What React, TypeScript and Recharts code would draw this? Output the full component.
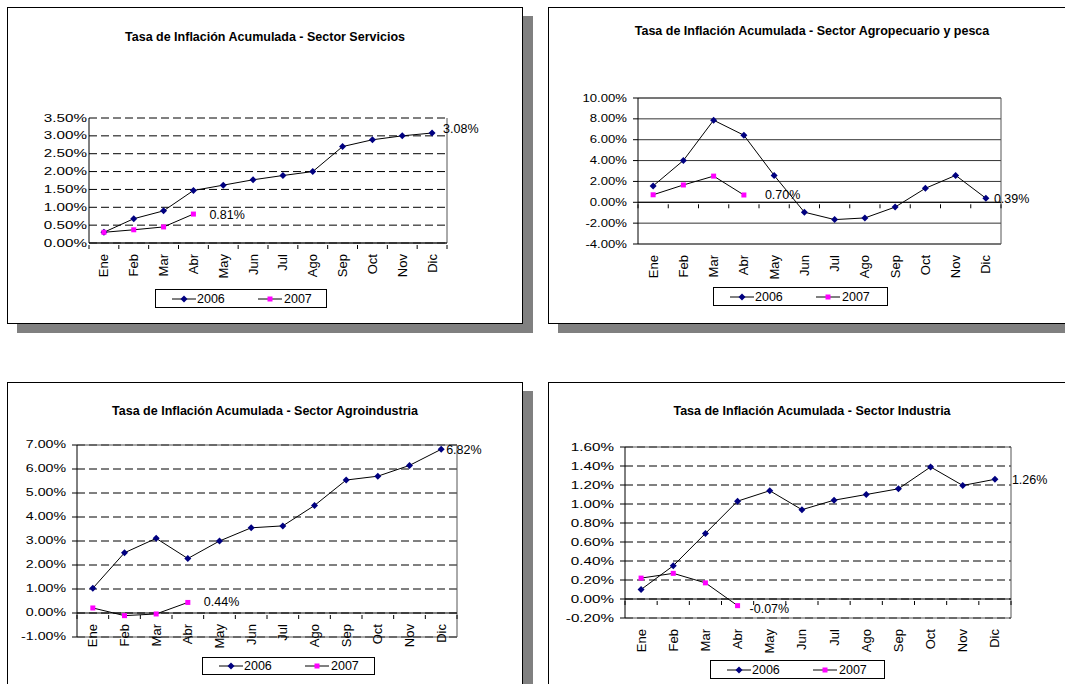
import { LineChart, Line, XAxis, YAxis, CartesianGrid, ReferenceLine } from "recharts";

const FONT = '"Liberation Sans", Arial, sans-serif';

const months = ["Ene", "Feb", "Mar", "Abr", "May", "Jun", "Jul", "Ago", "Sep", "Oct", "Nov", "Dic"];

const servicios2006 = [0.3, 0.68, 0.9, 1.47, 1.62, 1.77, 1.89, 2.0, 2.7, 2.89, 3.0, 3.08];
const servicios2007 = [0.3, 0.37, 0.45, 0.81];
const serviciosTicks = [0, 0.5, 1, 1.5, 2, 2.5, 3, 3.5];

const agro2006 = [1.57, 4.01, 7.87, 6.43, 2.58, -0.95, -1.66, -1.5, -0.46, 1.34, 2.58, 0.39];
const agro2007 = [0.72, 1.66, 2.51, 0.7];
const agroTicks = [-4, -2, 0, 2, 4, 6, 8, 10];

const agroind2006 = [1.03, 2.51, 3.11, 2.27, 3.0, 3.55, 3.63, 4.48, 5.54, 5.7, 6.15, 6.82];
const agroind2007 = [0.21, -0.11, -0.04, 0.44];
const agroindTicks = [-1, 0, 1, 2, 3, 4, 5, 6, 7];

const industria2006 = [0.1, 0.35, 0.69, 1.03, 1.14, 0.94, 1.04, 1.1, 1.16, 1.39, 1.195, 1.26];
const industria2007 = [0.22, 0.27, 0.17, -0.07];
const industriaTicks = [-0.2, 0, 0.2, 0.4, 0.6, 0.8, 1.0, 1.2, 1.4, 1.6];

const pct = (v: number) => `${v.toFixed(2)}%`;

function Diamond(p: any) {
  const { cx, cy } = p;
  if (cx == null || cy == null) return <g key={p.index} />;
  return (
    <path
      key={p.index}
      d={`M${cx},${cy - 3.5}L${cx + 3.5},${cy}L${cx},${cy + 3.5}L${cx - 3.5},${cy}Z`}
      fill="#000080"
    />
  );
}

function Square(p: any) {
  const { cx, cy } = p;
  if (cx == null || cy == null) return <g key={p.index} />;
  return <rect key={p.index} x={cx - 2.5} y={cy - 2.5} width={5} height={5} fill="#ff00ff" />;
}

function Legend({ left, top, w, h }: { left: number; top: number; w: number; h: number }) {
  const item = (marker: any, text: string, lx: number, tx: number) => (
    <>
      <svg style={{ position: "absolute", left: lx, top: h / 2 - 6 }} width={24} height={10}>
        <line x1={0} x2={24} y1={5} y2={5} stroke="#000" />
        {marker}
      </svg>
      <span style={{ position: "absolute", left: tx, top: h / 2 - 9, fontSize: 12.5, lineHeight: "16px" }}>{text}</span>
    </>
  );
  return (
    <div
      style={{
        position: "absolute",
        left,
        top,
        width: w,
        height: h,
        border: "1px solid #000",
        boxSizing: "border-box",
        fontFamily: FONT,
        background: "#fff",
      }}
    >
      {item(<path d="M12,1.5L15.5,5L12,8.5L8.5,5Z" fill="#000080" />, "2006", 16, 41)}
      {item(<rect x={9.5} y={2.5} width={5} height={5} fill="#ff00ff" />, "2007", 102, 128)}
    </div>
  );
}

type Cfg = {
  left: number;
  top: number;
  W: number;
  H: number;
  title: string;
  titleY: number;
  plot: { left: number; top: number; right: number; bottom: number };
  ticks: number[];
  s2006: number[];
  s2007: number[];
  dashed: boolean;
  topSolid: boolean;
  labelAtZero: boolean;
  sx: number;
  yTickSize: number;
  yTickMargin: number;
  lab2006: [number, number];
  lab2007: [number, number];
  legend: { left: number; top: number; w: number; h: number };
};

function Panel(c: Cfg) {
  const cw = c.W - 2;
  const ch = c.H - 2;
  const plotW = c.plot.right - c.plot.left;
  const plotH = c.plot.bottom - c.plot.top;
  const band = plotW / months.length;
  const min = c.ticks[0];
  const max = c.ticks[c.ticks.length - 1];
  const zeroShift = (plotH * (0 - min)) / (max - min);

  const data = months.map((m, i) => ({
    mes: m,
    a2006: c.s2006[i] ?? null,
    a2007: c.s2007[i] ?? null,
  }));

  const YTick = (p: any) => {
    const { x, y, payload } = p;
    return (
      <text
        transform={`translate(${x},${y}) scale(${c.sx},1)`}
        textAnchor="end"
        dominantBaseline="central"
        fontSize={10.5}
        fontFamily={FONT}
        fill="#000"
      >
        {pct(payload.value)}
      </text>
    );
  };

  const XTick = (p: any) => {
    const { x, y, payload, index } = p;
    const y0 = y - zeroShift;
    const ly = (c.labelAtZero ? y0 : y) + 9;
    return (
      <g>
        <line x1={x - band / 2} x2={x - band / 2} y1={y0} y2={y0 + 4} stroke="#000" />
        {index === months.length - 1 && (
          <line x1={x + band / 2} x2={x + band / 2} y1={y0} y2={y0 + 4} stroke="#000" />
        )}
        <text
          x={x}
          y={ly}
          transform={`rotate(-90 ${x} ${ly})`}
          textAnchor="end"
          dominantBaseline="central"
          fontSize={13}
          fontFamily={FONT}
          fill="#000"
        >
          {payload.value}
        </text>
      </g>
    );
  };

  const makeLabel = (series: number[], off: [number, number]) => (p: any) => {
    const idx = series.length - 1;
    const px = p.x ?? p.viewBox?.x;
    const py = p.y ?? p.viewBox?.y;
    if (p.index !== idx || px == null) return <g key={`l${p.index}`} />;
    return (
      <text
        key={`l${p.index}`}
        x={px + off[0]}
        y={py + off[1]}
        dominantBaseline="central"
        fontSize={12.5}
        fontFamily={FONT}
        fill="#000"
      >
        {pct(series[idx])}
      </text>
    );
  };

  return (
    <div
      style={{
        position: "absolute",
        left: c.left,
        top: c.top,
        width: c.W,
        height: c.H,
        border: "1px solid #000",
        boxSizing: "border-box",
        boxShadow: "10px 9px 0 #808080",
        background: "#fff",
      }}
    >
      <div
        style={{
          position: "absolute",
          left: 0,
          top: c.titleY - 8,
          width: cw,
          textAlign: "center",
          fontFamily: FONT,
          fontWeight: "bold",
          fontSize: 12.5,
          lineHeight: "16px",
        }}
      >
        {c.title}
      </div>
      <div style={{ position: "absolute", left: 0, top: 0 }}>
        <LineChart
          width={cw}
          height={ch}
          data={data}
          margin={{ top: c.plot.top, right: cw - c.plot.right, bottom: 0, left: 0 }}
        >
          <CartesianGrid
            vertical={false}
            stroke={c.dashed ? "#000" : "#333"}
            strokeDasharray={c.dashed ? "8 4" : undefined}
          />
          <CartesianGrid
            stroke="#555"
            verticalCoordinatesGenerator={({ offset }: any) => [offset.left + offset.width]}
            horizontalCoordinatesGenerator={({ offset }: any) =>
              c.topSolid ? [offset.top, offset.top + offset.height] : [offset.top + offset.height]
            }
          />
          <XAxis
            dataKey="mes"
            height={ch - c.plot.bottom}
            axisLine={false}
            tickLine={false}
            tickSize={0}
            interval={0}
            padding={{ left: band / 2, right: band / 2 }}
            tick={XTick}
          />
          <YAxis
            type="number"
            width={c.plot.left}
            domain={[min, max]}
            ticks={c.ticks}
            interval={0}
            allowDataOverflow
            axisLine={{ stroke: "#000" }}
            tickLine={c.yTickSize > 0 ? { stroke: "#000" } : false}
            tickSize={c.yTickSize}
            tickMargin={c.yTickMargin}
            tick={YTick}
          />
          <ReferenceLine y={0} stroke="#000" />
          <Line
            type="linear"
            dataKey="a2006"
            stroke="#000"
            strokeWidth={1}
            dot={Diamond}
            activeDot={false}
            isAnimationActive={false}
            label={makeLabel(c.s2006, c.lab2006)}
          />
          <Line
            type="linear"
            dataKey="a2007"
            stroke="#000"
            strokeWidth={1}
            dot={Square}
            activeDot={false}
            isAnimationActive={false}
            label={makeLabel(c.s2007, c.lab2007)}
          />
        </LineChart>
      </div>
      <Legend {...c.legend} />
    </div>
  );
}

export default function App() {
  return (
    <div
      style={{
        position: "absolute",
        left: 0,
        top: 0,
        width: 1065,
        height: 684,
        overflow: "hidden",
        background: "#fff",
      }}
    >
      <Panel
        left={7}
        top={7}
        W={516}
        H={317}
        title="Tasa de Inflación Acumulada - Sector Servicios"
        titleY={29}
        plot={{ left: 81, top: 110, right: 439, bottom: 235 }}
        ticks={serviciosTicks}
        s2006={servicios2006}
        s2007={servicios2007}
        dashed
        topSolid={false}
        labelAtZero={false}
        sx={1.45}
        yTickSize={0}
        yTickMargin={2}
        lab2006={[11, -4]}
        lab2007={[16, 1]}
        legend={{ left: 147, top: 281, w: 172, h: 19 }}
      />
      <Panel
        left={548}
        top={7}
        W={528}
        H={317}
        title="Tasa de Inflación Acumulada - Sector Agropecuario y pesca"
        titleY={23}
        plot={{ left: 89, top: 90, right: 452, bottom: 236 }}
        ticks={agroTicks}
        s2006={agro2006}
        s2007={agro2007}
        dashed={false}
        topSolid
        labelAtZero={false}
        sx={1.25}
        yTickSize={5}
        yTickMargin={6}
        lab2006={[8, 1]}
        lab2007={[21, 0]}
        legend={{ left: 164, top: 279, w: 175, h: 19 }}
      />
      <Panel
        left={7}
        top={382}
        W={516}
        H={310}
        title="Tasa de Inflación Acumulada - Sector Agroindustria"
        titleY={28}
        plot={{ left: 69, top: 62, right: 449, bottom: 254 }}
        ticks={agroindTicks}
        s2006={agroind2006}
        s2007={agroind2007}
        dashed
        topSolid
        labelAtZero
        sx={1.35}
        yTickSize={5}
        yTickMargin={6}
        lab2006={[5, 1]}
        lab2007={[16, 0]}
        legend={{ left: 194, top: 274, w: 173, h: 18 }}
      />
      <Panel
        left={548}
        top={382}
        W={528}
        H={310}
        title="Tasa de Inflación Acumulada - Sector Industria"
        titleY={28}
        plot={{ left: 76, top: 64, right: 462, bottom: 235 }}
        ticks={industriaTicks}
        s2006={industria2006}
        s2007={industria2007}
        dashed
        topSolid
        labelAtZero={false}
        sx={1.45}
        yTickSize={5}
        yTickMargin={6}
        lab2006={[17, 1]}
        lab2007={[12, 3]}
        legend={{ left: 161, top: 277, w: 175, h: 19 }}
      />
    </div>
  );
}
